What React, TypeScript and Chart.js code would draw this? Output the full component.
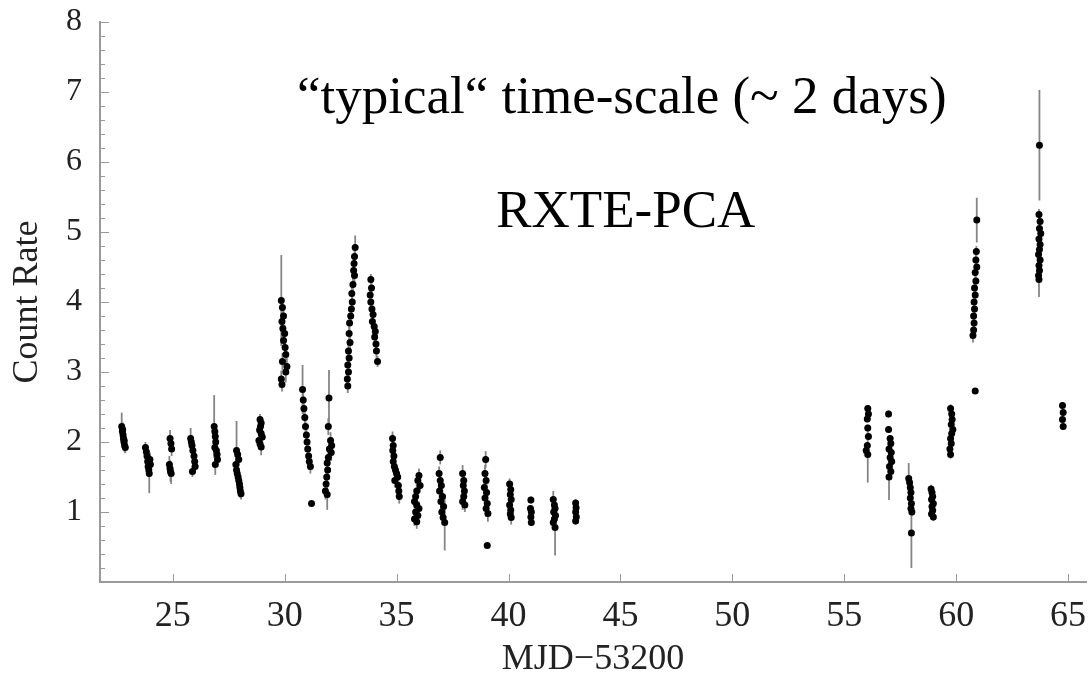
import React, { useEffect, useRef } from "react";
import { Chart, registerables } from "chart.js";
Chart.register(...registerables);

// Time (MJD - 53200), count rate, and 1-sigma error of each RXTE-PCA measurement
const mjd = [
  22.72, 22.75, 22.78, 22.8, 22.82, 22.85, 22.88, 22.76, 22.83,
  23.78, 23.82, 23.85, 23.88, 23.9, 23.93, 23.95, 23.98, 24.0,
  24.88, 24.92, 24.95, 24.85, 24.88, 24.9, 24.93,
  25.8, 25.83, 25.86, 25.9, 25.95, 25.98, 26.0, 25.88,
  26.85, 26.88, 26.9, 26.92, 26.88, 26.95, 26.98, 27.0, 26.9,
  27.85, 27.9, 27.95, 27.82, 27.85, 27.88, 27.92, 27.95, 27.98, 28.0, 28.02, 28.05,
  28.9, 28.95, 28.92, 28.88, 28.95, 29.0, 28.85, 28.9, 28.95,
  29.85, 29.9, 29.95, 29.88, 29.92, 30.0, 29.95, 30.02, 30.05, 29.9, 30.1, 30.05, 29.85, 29.88,
  30.8, 30.83, 30.86, 30.9, 30.93, 30.97, 31.0, 31.03, 31.07, 31.1, 31.15, 31.2,
  31.98, 31.95, 32.05, 32.1, 32.0, 32.08, 31.95, 31.9, 31.92, 31.88, 31.85, 31.82, 31.9,
  33.15, 33.12, 33.1, 33.08, 33.12, 33.05, 33.0, 33.02, 32.98, 32.95, 32.9, 32.88, 32.92, 32.85, 32.88, 32.82, 32.85, 32.8, 32.82,
  33.85, 33.88, 33.82, 33.85, 33.9, 33.95, 33.92, 34.0, 34.05, 34.02, 34.08, 34.1, 34.15,
  34.82, 34.85, 34.83, 34.88, 34.85, 34.9, 34.95, 35.0, 35.05, 34.92, 35.08, 35.1, 35.12,
  36.0, 35.95, 36.05, 35.9, 35.85, 35.8, 35.9, 36.0, 35.85, 35.95, 35.8, 35.9,
  36.95, 36.9, 36.95, 37.0, 36.92, 37.05, 36.98, 37.1, 37.02, 37.08, 37.15,
  37.95, 38.0, 37.98, 38.03, 38.0, 37.95, 38.05,
  38.98, 38.95, 39.0, 38.92, 39.02, 38.95, 39.05, 39.0, 39.08, 39.05,
  40.05, 40.1, 40.08, 40.12, 40.05, 40.1, 40.08, 40.12,
  41.0, 40.98, 41.02, 41.0, 41.02,
  42.0, 42.05, 42.08, 42.02, 42.1, 42.05, 42.0, 42.08,
  43.0, 43.02, 43.0, 43.03, 43.0,
  56.05, 56.08, 56.03, 56.05, 56.08, 56.03, 55.98, 56.05,
  56.98, 56.98, 57.05, 57.08, 57.0, 57.1, 57.05, 57.12, 57.02, 57.08, 57.0,
  57.88, 57.92, 57.95, 57.98, 57.95, 58.0, 57.98, 58.02, 58.0,
  58.88, 58.92, 58.95, 58.9, 58.98, 58.92, 58.95, 58.9, 58.98,
  59.75, 59.8, 59.82, 59.78, 59.85, 59.8, 59.75, 59.78, 59.72, 59.75,
  60.92, 60.9, 60.88, 60.92, 60.85, 60.88, 60.82, 60.85, 60.8, 60.82, 60.78, 60.8, 60.78, 60.75, 60.85,
  63.72, 63.7, 63.75, 63.72, 63.78, 63.7, 63.75, 63.72, 63.68, 63.75, 63.7, 63.72, 63.68, 63.7,
  64.75, 64.78, 64.75, 64.78,
];

const rate = [
  2.22, 2.15, 2.1, 2.05, 2.0, 1.95, 1.92, 2.18, 2.02,
  1.92, 1.86, 1.8, 1.72, 1.65, 1.6, 1.55, 1.75, 1.68,
  2.05, 1.98, 1.9, 1.68, 1.62, 1.58, 1.55,
  2.05, 2.0, 1.95, 1.88, 1.8, 1.72, 1.65, 1.58,
  2.22, 2.15, 2.08, 2.0, 1.92, 1.88, 1.82, 1.75, 1.68,
  1.88, 1.82, 1.75, 1.68, 1.6, 1.55, 1.5, 1.45, 1.4, 1.35, 1.3, 1.26,
  2.32, 2.27, 2.22, 2.17, 2.12, 2.07, 2.02, 1.97, 1.93,
  4.02, 3.92, 3.8, 3.72, 3.62, 3.55, 3.45, 3.35, 3.25, 3.15, 3.08, 3.0, 2.9, 2.82,
  2.75, 2.6, 2.48, 2.35, 2.22, 2.1, 2.0, 1.9, 1.8, 1.72, 1.65, 1.12,
  2.63, 2.22, 2.02, 1.95, 1.9, 1.85, 1.78, 1.7, 1.6, 1.5, 1.4, 1.3, 1.25,
  4.78, 4.65, 4.55, 4.45, 4.38, 4.25, 4.12, 4.0, 3.9, 3.8, 3.7, 3.55, 3.42, 3.3, 3.2, 3.1, 3.0, 2.9, 2.8,
  4.32, 4.2, 4.1, 4.0, 3.9, 3.82, 3.72, 3.65, 3.58, 3.5, 3.4, 3.3, 3.15,
  2.05, 1.95, 1.88, 1.8, 1.72, 1.65, 1.6, 1.55, 1.5, 1.45, 1.38, 1.3, 1.22,
  1.52, 1.45, 1.38, 1.3, 1.22, 1.15, 1.1, 1.05, 1.0, 0.95, 0.9, 0.86,
  1.78, 1.55, 1.45, 1.38, 1.3, 1.22, 1.15, 1.08, 1.0, 0.92, 0.85,
  1.55, 1.45, 1.38, 1.3, 1.22, 1.15, 1.1,
  1.75, 1.55, 1.45, 1.35, 1.28, 1.2, 1.12, 1.05, 0.98, 0.52,
  1.4, 1.32, 1.25, 1.18, 1.1, 1.03, 0.97, 0.92,
  1.17, 1.05, 1.0, 0.93, 0.85,
  1.18, 1.1, 1.05, 1.0, 0.95, 0.9, 0.85, 0.78,
  1.13, 1.06, 1.0, 0.93, 0.87,
  2.48, 2.4, 2.33, 2.2, 2.08, 1.95, 1.88, 1.82,
  2.4, 2.18, 2.05, 1.98, 1.9, 1.85, 1.78, 1.72, 1.65, 1.58, 1.5,
  1.48, 1.42, 1.35, 1.28, 1.2, 1.12, 1.05, 1.0, 0.7,
  1.33, 1.28, 1.22, 1.18, 1.12, 1.08, 1.02, 0.97, 0.93,
  2.48, 2.4, 2.32, 2.25, 2.18, 2.12, 2.05, 1.98, 1.9, 1.82,
  5.17, 4.72, 4.6, 4.5, 4.42, 4.3, 4.2, 4.1, 4.0, 3.9, 3.8, 3.7, 3.6, 3.52, 2.73,
  6.24, 5.25, 5.15, 5.05, 4.98, 4.9, 4.82, 4.75, 4.68, 4.6, 4.52, 4.45, 4.38, 4.32,
  2.52, 2.42, 2.32, 2.22,
];

const rateErr = [
  0.2, 0.1, 0.1, 0.1, 0.1, 0.1, 0.08, 0.1, 0.1,
  0.08, 0.1, 0.1, 0.1, 0.12, 0.1, 0.28, 0.1, 0.1,
  0.12, 0.1, 0.1, 0.12, 0.12, 0.15, 0.15,
  0.15, 0.1, 0.1, 0.1, 0.1, 0.1, 0.1, 0.08,
  0.45, 0.1, 0.1, 0.1, 0.1, 0.1, 0.12, 0.1, 0.15,
  0.42, 0.1, 0.1, 0.1, 0.1, 0.1, 0.1, 0.1, 0.1, 0.1, 0.1, 0.08,
  0.08, 0.08, 0.08, 0.08, 0.08, 0.08, 0.08, 0.08, 0.12,
  0.65, 0.12, 0.12, 0.12, 0.12, 0.12, 0.12, 0.12, 0.12, 0.12, 0.12, 0.15, 0.12, 0.1,
  0.35, 0.12, 0.12, 0.12, 0.12, 0.12, 0.12, 0.12, 0.12, 0.12, 0.1, 0.02,
  0.4, 0.12, 0.12, 0.12, 0.12, 0.12, 0.12, 0.12, 0.12, 0.12, 0.12, 0.12, 0.22,
  0.17, 0.12, 0.12, 0.12, 0.12, 0.12, 0.12, 0.12, 0.12, 0.12, 0.12, 0.12, 0.12, 0.12, 0.12, 0.12, 0.12, 0.12, 0.1,
  0.08, 0.1, 0.1, 0.1, 0.1, 0.1, 0.1, 0.1, 0.1, 0.1, 0.1, 0.1, 0.08,
  0.1, 0.1, 0.1, 0.1, 0.1, 0.1, 0.1, 0.1, 0.1, 0.1, 0.1, 0.1, 0.1,
  0.1, 0.1, 0.1, 0.1, 0.1, 0.1, 0.1, 0.1, 0.1, 0.1, 0.1, 0.1,
  0.1, 0.1, 0.1, 0.1, 0.1, 0.1, 0.1, 0.1, 0.1, 0.1, 0.4,
  0.12, 0.12, 0.12, 0.12, 0.12, 0.12, 0.1,
  0.12, 0.12, 0.12, 0.12, 0.12, 0.12, 0.12, 0.12, 0.12, 0.03,
  0.08, 0.08, 0.08, 0.08, 0.08, 0.08, 0.08, 0.1,
  0.05, 0.05, 0.05, 0.05, 0.05,
  0.12, 0.1, 0.1, 0.1, 0.1, 0.1, 0.1, 0.4,
  0.05, 0.05, 0.05, 0.05, 0.05,
  0.05, 0.05, 0.05, 0.05, 0.05, 0.05, 0.05, 0.4,
  0.05, 0.05, 0.05, 0.05, 0.05, 0.05, 0.05, 0.05, 0.05, 0.05, 0.33,
  0.22, 0.06, 0.06, 0.06, 0.06, 0.06, 0.06, 0.06, 0.5,
  0.06, 0.06, 0.06, 0.06, 0.06, 0.06, 0.06, 0.06, 0.06,
  0.06, 0.06, 0.06, 0.06, 0.06, 0.06, 0.06, 0.06, 0.06, 0.06,
  0.32, 0.08, 0.08, 0.08, 0.08, 0.08, 0.08, 0.08, 0.08, 0.08, 0.08, 0.08, 0.08, 0.1, 0.03,
  0.79, 0.08, 0.08, 0.08, 0.08, 0.08, 0.08, 0.08, 0.08, 0.08, 0.08, 0.08, 0.08, 0.25,
  0.04, 0.04, 0.04, 0.04,
];

const xTickValues = [25, 30, 35, 40, 45, 50, 55, 60, 65];
const yTickValues = [1, 2, 3, 4, 5, 6, 7, 8];
const xMin = 21.75;
const xMax = 65.8;
const yMin = 0;
const yMax = 8;
const xTitle = "MJD\u221253200";
const yTitle = "Count Rate";
const noteTimescale = "\u201Ctypical\u201C time-scale (~ 2 days)";
const noteInstrument = "RXTE-PCA";
// anchor of the two notes, in data coordinates (x centre, baseline)
const noteTimescaleAt = [45.06, 6.7];
const noteInstrumentAt = [45.24, 5.07];

const SERIF = "'Liberation Serif', 'DejaVu Serif', serif";

const errorBarPlugin = {
  id: "errorBars",
  beforeDatasetsDraw(chart: any) {
    const { ctx, scales } = chart;
    const xs = scales.x;
    const ys = scales.y;
    ctx.save();
    ctx.strokeStyle = "#858585";
    ctx.lineWidth = 1.8;
    for (let i = 0; i < mjd.length; i++) {
      const px = xs.getPixelForValue(mjd[i]);
      const top = ys.getPixelForValue(rate[i] + rateErr[i]);
      const bot = ys.getPixelForValue(rate[i] - rateErr[i]);
      ctx.beginPath();
      ctx.moveTo(px, top);
      ctx.lineTo(px, bot);
      ctx.stroke();
    }
    ctx.restore();
  },
};

const innerTicksPlugin = {
  id: "innerTicks",
  afterDraw(chart: any) {
    const { ctx, scales, chartArea } = chart;
    const xs = scales.x;
    const ys = scales.y;
    ctx.save();
    ctx.strokeStyle = "#9a9a9a";
    ctx.lineWidth = 1;
    ctx.beginPath();
    for (const v of xTickValues) {
      const px = Math.round(xs.getPixelForValue(v)) + 0.5;
      ctx.moveTo(px, chartArea.bottom);
      ctx.lineTo(px, chartArea.bottom - 8);
    }
    for (let k = 1; k <= 40; k++) {
      const v = k / 5;
      const py = Math.round(ys.getPixelForValue(v)) + 0.5;
      const len = k % 5 === 0 ? 9 : 5;
      ctx.moveTo(chartArea.left, py);
      ctx.lineTo(chartArea.left + len, py);
    }
    ctx.stroke();

    ctx.fillStyle = "#000";
    ctx.textAlign = "center";
    ctx.textBaseline = "alphabetic";
    ctx.font = `53px ${SERIF}`;
    ctx.fillText(
      noteTimescale,
      xs.getPixelForValue(noteTimescaleAt[0]),
      ys.getPixelForValue(noteTimescaleAt[1])
    );
    ctx.fillText(
      noteInstrument,
      xs.getPixelForValue(noteInstrumentAt[0]),
      ys.getPixelForValue(noteInstrumentAt[1])
    );
    ctx.restore();
  },
};

export default function App() {
  const ref = useRef<HTMLCanvasElement | null>(null);
  useEffect(() => {
    if (!ref.current) return;
    const points = mjd.map((x, i) => ({ x, y: rate[i] }));
    const chart = new Chart(ref.current, {
      type: "scatter",
      data: {
        datasets: [
          {
            data: points,
            pointStyle: "circle",
            pointRadius: 3.5,
            pointBorderWidth: 0,
            pointBackgroundColor: "#000",
            pointBorderColor: "#000",
          },
        ],
      },
      options: {
        animation: false,
        responsive: false,
        maintainAspectRatio: false,
        layout: { padding: { top: 22, right: 2, left: 0, bottom: 0 } },
        plugins: { legend: { display: false }, tooltip: { enabled: false } },
        scales: {
          x: {
            type: "linear",
            min: xMin,
            max: xMax,
            afterBuildTicks: (s: any) => {
              s.ticks = xTickValues.map((v) => ({ value: v }));
            },
            afterFit: (s: any) => {
              s.height = 97;
              s.paddingLeft = 0;
              s.paddingRight = 0;
            },
            grid: { display: false, drawTicks: false },
            border: { display: true, color: "#9a9a9a", width: 2 },
            ticks: {
              autoSkip: false,
              maxRotation: 0,
              padding: 13,
              color: "#222",
              font: { family: SERIF, size: 36 },
            },
            title: {
              display: true,
              text: xTitle,
              color: "#222",
              font: { family: SERIF, size: 36, lineHeight: 1.0 },
              padding: { top: 0, bottom: 1 },
            },
          },
          y: {
            type: "linear",
            min: yMin,
            max: yMax,
            afterBuildTicks: (s: any) => {
              s.ticks = yTickValues.map((v) => ({ value: v }));
            },
            afterFit: (s: any) => {
              s.width = 100;
              s.paddingTop = 0;
              s.paddingBottom = 0;
            },
            grid: { display: false, drawTicks: false },
            border: { display: true, color: "#9a9a9a", width: 2 },
            ticks: {
              padding: 18,
              color: "#222",
              font: { family: SERIF, size: 32 },
            },
            title: {
              display: true,
              text: yTitle,
              color: "#222",
              font: { family: SERIF, size: 36, lineHeight: 1.0 },
              padding: { top: 10, bottom: 0 },
            },
          },
        },
      },
      plugins: [errorBarPlugin, innerTicksPlugin],
    });
    return () => chart.destroy();
  }, []);

  return (
    <div style={{ position: "absolute", left: 0, top: 0, width: 1090, height: 679, background: "#fff" }}>
      <canvas ref={ref} width={1090} height={679} style={{ width: 1090, height: 679, display: "block" }} />
    </div>
  );
}
